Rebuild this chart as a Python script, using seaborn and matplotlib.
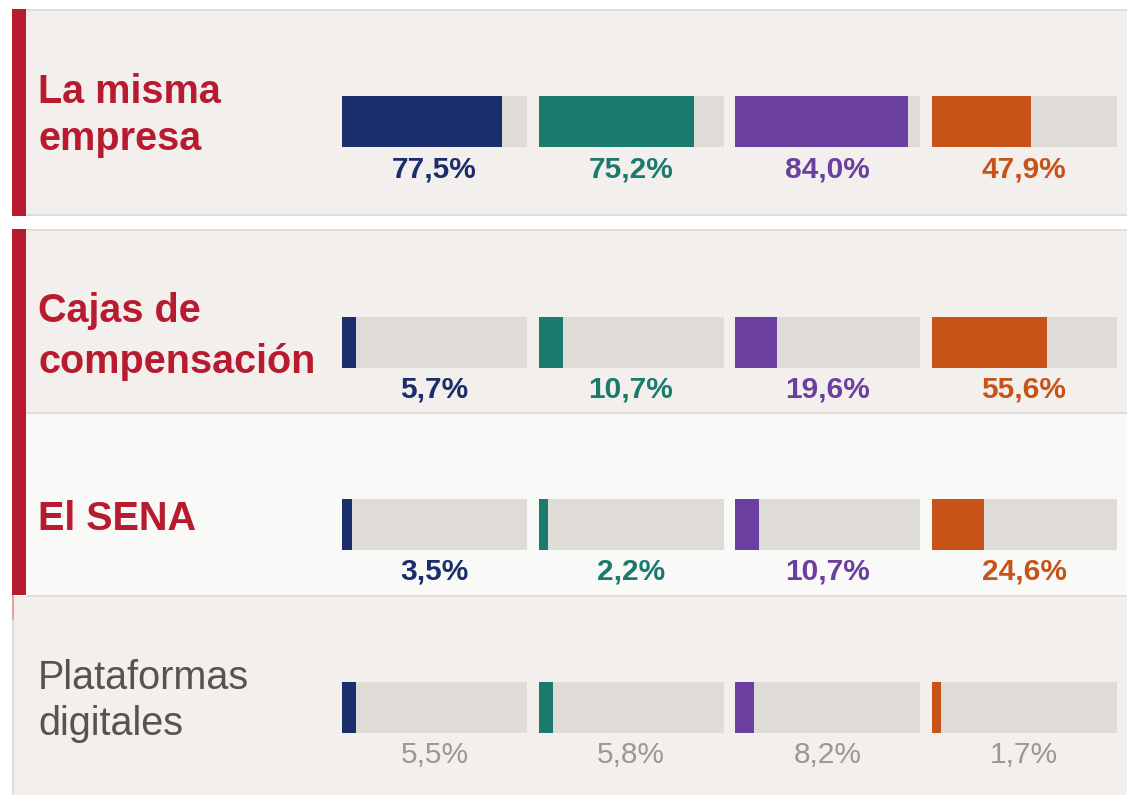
import matplotlib
matplotlib.use("Agg")
import matplotlib.pyplot as plt
import seaborn as sns
import pandas as pd
from matplotlib.patches import Rectangle

# ---------------- data ----------------
sources = ["La misma\nempresa", "Cajas de\ncompensación", "El SENA", "Plataformas\ndigitales"]
series_1 = [77.5, 5.7, 3.5, 5.5]
series_2 = [75.2, 10.7, 2.2, 5.8]
series_3 = [84.0, 19.6, 10.7, 8.2]
series_4 = [47.9, 55.6, 24.6, 1.7]
scale_max = 91.2
bar_pad = 1.3
min_visible = 4.9

# ---------------- styles ----------------
series_colors = ["#1b2d6b", "#1b7a6e", "#6b3fa0", "#c75318"]
track_color = "#dfdcd8"
bg_color = "#f2efec"
bg_light = "#f9f9f8"
red = "#b81b30"
line_color = "#e0dcd8"
muted_text = "#999896"
dark_label = "#575350"

sns.set_theme(style="white")
plt.rcParams["font.family"] = ["Liberation Sans", "DejaVu Sans"]

W, H = 1127, 795
fig = plt.figure(figsize=(W / 100, H / 100), dpi=100)
fig.patch.set_facecolor("white")

# background axes in pixel coordinates
bg = fig.add_axes([0, 0, 1, 1], zorder=-1)
bg.set_xlim(0, W)
bg.set_ylim(H, 0)
bg.axis("off")

def rect(x0, y0, x1, y1, c, z=0):
    bg.add_patch(Rectangle((x0, y0), x1 - x0, y1 - y0, facecolor=c, edgecolor="none", zorder=z))

# row panels
rect(26, 10, W, 215, bg_color)
rect(26, 230, W, 413, bg_color)
rect(26, 413, W, 596, bg_light)
rect(13, 596, W, H, bg_color)
for y in (10, 215, 230, 413, 596):
    rect(26, y - 1, W, y + 1, line_color, 1)
rect(12, 596, 14, H, line_color, 1)
rect(12, 595, 13.5, 620, "#e9a0a8", 2)
# red accents
rect(12, 9, 26, 216, red, 3)
rect(12, 229, 26, 595, red, 3)

# layout
bar_tops = [96, 317, 499, 682]
bar_h = 51
group_x = [342, 538.5, 735, 931.5]
track_w = 185

label_lines = [
    [("La misma", 103), ("empresa", 150)],
    [("Cajas de", 322), ("compensación", 373)],
    [("El SENA", 530)],
    [("Plataformas", 689), ("digitales", 735)],
]

all_series = [series_1, series_2, series_3, series_4]

for r, src in enumerate(sources):
    highlighted = r < 3
    for (txt, yb) in label_lines[r]:
        bg.text(38, yb, txt, fontsize=28.5, va="baseline", ha="left",
                color=red if highlighted else dark_label,
                fontweight="bold" if highlighted else "normal", zorder=5)
    for g in range(4):
        v = all_series[g][r]
        x0 = group_x[g]
        y0 = bar_tops[r]
        ax = fig.add_axes([x0 / W, 1 - (y0 + bar_h) / H, track_w / W, bar_h / H])
        ax.set_facecolor("none")
        df = pd.DataFrame({"row": [src], "track": [scale_max],
                           "value": [max(v + bar_pad, min_visible)]})
        sns.barplot(data=df, x="track", y="row", orient="h", color=track_color,
                    width=1.0, errorbar=None, saturation=1, ax=ax)
        sns.barplot(data=df, x="value", y="row", orient="h", color=series_colors[g],
                    width=1.0, errorbar=None, saturation=1, ax=ax)
        for p in ax.patches:
            p.set_linewidth(0)
        ax.set_xlim(0, scale_max)
        ax.set_ylim(0.5, -0.5)
        ax.axis("off")
        lbl = f"{v:.1f}%".replace(".", ",")
        bg.text(x0 + track_w / 2, y0 + bar_h + 30, lbl, ha="center", va="baseline",
                fontsize=21.5,
                color=series_colors[g] if highlighted else muted_text,
                fontweight="bold" if highlighted else "normal", zorder=5)

fig.savefig("out.png", dpi=100, facecolor="white")
